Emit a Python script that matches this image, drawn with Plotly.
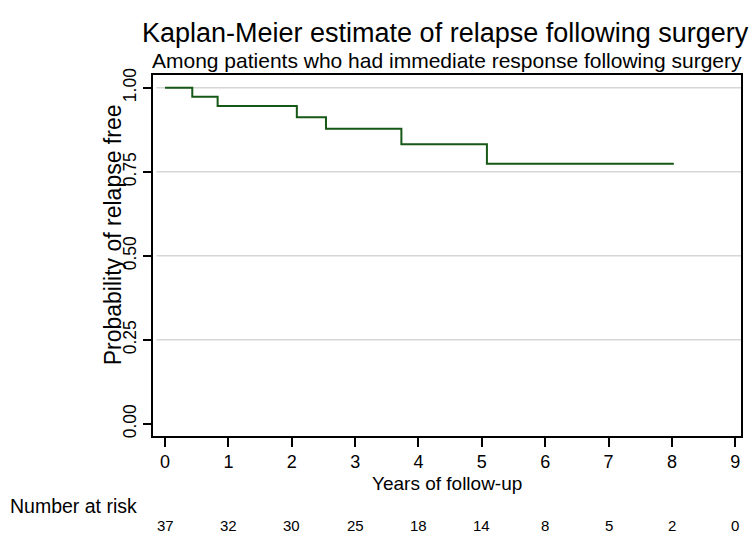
import plotly.graph_objects as go

# Kaplan-Meier step data
years = [0, 0.43, 0.83, 2.08, 2.54, 3.73, 5.08, 8.03]
surv = [1.0, 0.973, 0.946, 0.912, 0.878, 0.832, 0.774, 0.774]

# Number at risk table
risk_years = [0, 1, 2, 3, 4, 5, 6, 7, 8, 9]
at_risk = [37, 32, 30, 25, 18, 14, 8, 5, 2, 0]

x_ticks = [0, 1, 2, 3, 4, 5, 6, 7, 8, 9]
y_ticks = [0.0, 0.25, 0.5, 0.75, 1.0]
y_tick_labels = ["0.00", "0.25", "0.50", "0.75", "1.00"]
grid_vals = [0.25, 0.5, 0.75, 1.0]

FONT = "Liberation Sans, Arial, sans-serif"
GREEN = "#165816"

fig = go.Figure()
fig.add_trace(go.Scatter(
    x=years, y=surv, mode="lines", line=dict(shape="hv", color=GREEN, width=2),
    showlegend=False, hoverinfo="skip"))

for g in grid_vals:
    fig.add_shape(type="line", xref="paper", yref="y", x0=0.006, x1=1, y0=g, y1=g,
                  line=dict(color="#d6d6d6", width=1.5), layer="below")

for xv, n in zip(risk_years, at_risk):
    fig.add_annotation(x=xv, y=-0.247, xref="x", yref="paper", text=str(n),
                       showarrow=False, font=dict(size=15, color="black", family=FONT),
                       xanchor="center", yanchor="middle")

fig.add_annotation(x=-0.247, y=-0.194, xref="paper", yref="paper", text="Number at risk",
                   showarrow=False, font=dict(size=19.5, color="black", family=FONT),
                   xanchor="left", yanchor="middle")

fig.add_annotation(x=0.5, y=-0.131, xref="paper", yref="paper", text="Years of follow-up",
                   showarrow=False, font=dict(size=19, color="black", family=FONT),
                   xanchor="center", yanchor="middle")

fig.add_annotation(x=-0.068, y=0.556, xref="paper", yref="paper", text="Probability of relapse free",
                   showarrow=False, textangle=-90, font=dict(size=23, color="black", family=FONT),
                   xanchor="center", yanchor="middle")

fig.add_annotation(x=0.497, y=1.116, xref="paper", yref="paper",
                   text="Kaplan-Meier estimate of relapse following surgery",
                   showarrow=False, font=dict(size=27, color="black", family=FONT),
                   xanchor="center", yanchor="middle")

fig.add_annotation(x=0.5, y=1.039, xref="paper", yref="paper",
                   text="Among patients who had immediate response following surgery",
                   showarrow=False, font=dict(size=21, color="black", family=FONT),
                   xanchor="center", yanchor="middle")

fig.update_layout(
    width=755, height=540,
    margin=dict(l=153, r=14, t=75, b=104),
    paper_bgcolor="white", plot_bgcolor="white",
    font=dict(family=FONT, color="black"),
    xaxis=dict(
        range=[-0.19, 9.09], tickvals=x_ticks, ticks="outside", ticklen=9,
        tickcolor="black", tickwidth=1.5, showgrid=False, zeroline=False,
        showline=True, linecolor="black", linewidth=1.5, mirror=True,
        tickfont=dict(size=18, family=FONT)),
    yaxis=dict(
        range=[-0.036, 1.038], tickvals=y_ticks, ticktext=y_tick_labels,
        ticks="outside", ticklen=8, tickcolor="black", tickwidth=1.5,
        tickangle=-90, showgrid=False, zeroline=False,
        showline=True, linecolor="black", linewidth=1.5, mirror=True,
        tickfont=dict(size=17.5, family=FONT)),
)

fig.write_html("out.html", config={"displayModeBar": False},
               post_script="document.body.style.margin='0';")
